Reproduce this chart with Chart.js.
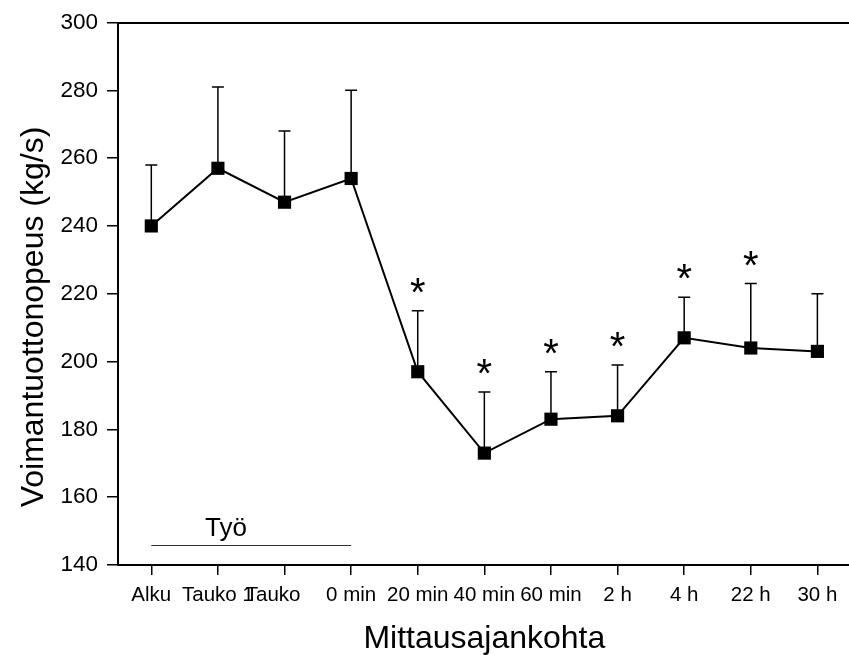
<!DOCTYPE html>
<html>
<head>
<meta charset="utf-8">
<script src="https://cdn.jsdelivr.net/npm/chart.js@4/dist/chart.umd.min.js"></script>
<style>
  html, body { margin: 0; padding: 0; background: #fff; overflow: hidden; }
  #wrap { width: 860px; height: 655px; }
</style>
</head>
<body>
<div id="wrap"><canvas id="c" width="860" height="655"></canvas></div>
<script>
// Measurement points (the third label keeps trailing spaces so it sits left of its tick)
const categories = ['Alku', 'Tauko 1', 'Tauko    ', '0 min', '20 min', '40 min', '60 min', '2 h', '4 h', '22 h', '30 h'];
// Mean rate of force development (kg/s) and its standard deviation
const meanRFD = [240, 257, 247, 254, 197, 173, 183, 184, 207, 204, 203];
const sdRFD = [18, 24, 21, 26, 18, 18, 14, 15, 12, 19, 17];
// Points that differ significantly from baseline
const significant = [false, false, false, false, true, true, true, true, true, true, false];
// Y axis range and tick step
const yMin = 140, yMax = 300, yStep = 20;
// Work period bar under the first four points
const workSpan = [0, 3];
const workLevel = 146;
const workLabel = 'Työ';
const xTitle = 'Mittausajankohta';
const yTitle = 'Voimantuottonopeus (kg/s)';

const FONT = "'Liberation Sans', Arial, Helvetica, sans-serif";

const decorations = {
  id: 'decorations',
  beforeDatasetsDraw(chart) {
    const { ctx, scales: { x, y } } = chart;
    ctx.save();
    // upward SD whiskers
    ctx.strokeStyle = '#000';
    ctx.lineWidth = 1.5;
    meanRFD.forEach((m, i) => {
      const px = x.getPixelForValue(i);
      const y0 = y.getPixelForValue(m);
      const y1 = y.getPixelForValue(m + sdRFD[i]);
      ctx.beginPath();
      ctx.moveTo(px, y0);
      ctx.lineTo(px, y1);
      ctx.moveTo(px - 6, y1);
      ctx.lineTo(px + 6, y1);
      ctx.stroke();
    });
    ctx.restore();
  },
  afterDatasetsDraw(chart) {
    const { ctx, chartArea, scales: { x, y } } = chart;
    ctx.save();
    // significance markers above the whiskers
    ctx.fillStyle = '#000';
    ctx.font = '40px ' + FONT;
    ctx.textAlign = 'center';
    ctx.textBaseline = 'alphabetic';
    meanRFD.forEach((m, i) => {
      if (!significant[i]) return;
      const px = x.getPixelForValue(i);
      const cap = y.getPixelForValue(m + sdRFD[i]);
      ctx.fillText('*', px, cap - 5);
    });
    // work period bar and its label
    const wy = Math.round(y.getPixelForValue(workLevel)) + 0.5;
    ctx.strokeStyle = '#333';
    ctx.lineWidth = 1.2;
    ctx.beginPath();
    ctx.moveTo(x.getPixelForValue(workSpan[0]), wy);
    ctx.lineTo(x.getPixelForValue(workSpan[1]), wy);
    ctx.stroke();
    ctx.font = '26px ' + FONT;
    ctx.fillText(workLabel, x.getPixelForValue(1.12), wy - 10);
    // frame line along the top of the plot
    ctx.strokeStyle = '#000';
    ctx.lineWidth = 2;
    ctx.beginPath();
    ctx.moveTo(chartArea.left - 1, Math.round(chartArea.top));
    ctx.lineTo(chart.width, Math.round(chartArea.top));
    ctx.stroke();
    ctx.restore();
  },
  afterDraw(chart) {
    const { ctx, chartArea } = chart;
    ctx.save();
    ctx.fillStyle = '#000';
    ctx.font = '32px ' + FONT;
    ctx.textAlign = 'center';
    ctx.textBaseline = 'alphabetic';
    ctx.fillText(xTitle, (chartArea.left + chartArea.right) / 2, 648);
    ctx.translate(43, 317);
    ctx.rotate(-Math.PI / 2);
    ctx.fillText(yTitle, 0, 0);
    ctx.restore();
  }
};

new Chart(document.getElementById('c'), {
  type: 'line',
  data: {
    labels: categories,
    datasets: [{
      data: meanRFD,
      borderColor: '#000',
      borderWidth: 2,
      backgroundColor: '#000',
      pointStyle: 'rect',
      pointRadius: 9.3,
      pointBorderWidth: 0,
      pointBackgroundColor: '#000',
      tension: 0,
      clip: false
    }]
  },
  options: {
    responsive: false,
    devicePixelRatio: 1,
    animation: false,
    layout: { padding: { top: 22, right: 6, bottom: 0, left: 0 } },
    plugins: { legend: { display: false }, tooltip: { enabled: false } },
    scales: {
      x: {
        offset: true,
        grid: { offset: false, drawOnChartArea: false, drawTicks: true, tickLength: 10, color: '#000', lineWidth: 1.5 },
        border: { display: true, color: '#000', width: 2 },
        ticks: { autoSkip: false, maxRotation: 0, minRotation: 0, padding: 8, color: '#000', font: { family: FONT, size: 20.5 } },
        afterFit(scale) { scale.height = 90; }
      },
      y: {
        min: yMin,
        max: yMax,
        grid: { drawOnChartArea: false, drawTicks: true, tickLength: 11, color: '#000', lineWidth: 1.5 },
        border: { display: true, color: '#000', width: 2 },
        ticks: { stepSize: yStep, padding: 9, color: '#000', font: { family: FONT, size: 22.5 } },
        afterFit(scale) { scale.width = 118; }
      }
    }
  },
  plugins: [decorations]
});
</script>
</body>
</html>
